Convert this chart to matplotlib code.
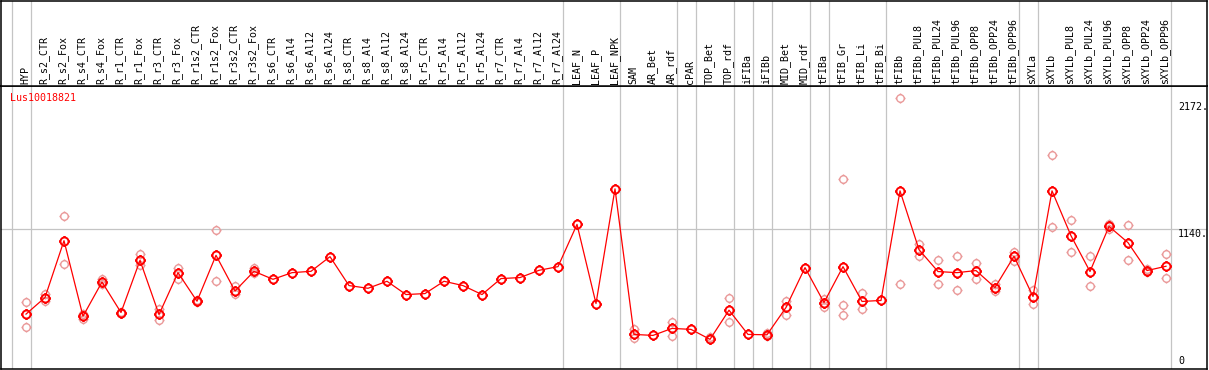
import numpy as np
import matplotlib.pyplot as plt
from matplotlib.path import Path

samples = ['HYP', 'R_s2_CTR', 'R_s2_Fox', 'R_s4_CTR', 'R_s4_Fox', 'R_r1_CTR', 'R_r1_Fox',
           'R_r3_CTR', 'R_r3_Fox', 'R_r1s2_CTR', 'R_r1s2_Fox', 'R_r3s2_CTR', 'R_r3s2_Fox',
           'R_s6_CTR', 'R_s6_Al4', 'R_s6_Al12', 'R_s6_Al24', 'R_s8_CTR', 'R_s8_Al4', 'R_s8_Al12',
           'R_s8_Al24', 'R_r5_CTR', 'R_r5_Al4', 'R_r5_Al12', 'R_r5_Al24', 'R_r7_CTR', 'R_r7_Al4',
           'R_r7_Al12', 'R_r7_Al24', 'LEAF_N', 'LEAF_P', 'LEAF_NPK', 'SAM', 'AR_Bet', 'AR_rdf',
           'cPAR', 'TOP_Bet', 'TOP_rdf', 'iFIBa', 'iFIBb', 'MID_Bet', 'MID_rdf', 'tFIBa',
           'tFIB_Gr', 'tFIB_Li', 'tFIB_Bi', 'tFIBb', 'tFIBb_PUL8', 'tFIBb_PUL24', 'tFIBb_PUL96',
           'tFIBb_OPP8', 'tFIBb_OPP24', 'tFIBb_OPP96', 'sXYLa', 'sXYLb', 'sXYLb_PUL8',
           'sXYLb_PUL24', 'sXYLb_PUL96', 'sXYLb_OPP8', 'sXYLb_OPP24', 'sXYLb_OPP96']

# mean expression per sample
means = [446, 581, 1043, 429, 707, 459, 883, 443, 783, 551, 924, 634, 794,
         729, 783, 794, 913, 678, 656, 713, 605, 613, 713, 678, 605, 735, 743, 802, 832,
         1175, 532, 1464, 281, 273, 330, 322, 241, 478, 281, 278, 500, 824, 540,
         832, 549, 557, 1448, 970, 792, 783, 800, 662, 916, 589, 1448, 1083,
         792, 1159, 1027, 800, 835]

nan = np.nan
# replicates (nan = none shown)
rep1 = [543, 613, 1240, 443, 732, 464, 932, 489, 824, 557, 1132, 678, 818,
        nan, nan, nan, nan, nan, nan, nan, nan, nan, nan, nan, nan, nan, nan, nan, nan,
        nan, nan, nan, 324, nan, 386, nan, 259, 573, nan, 289, 553, nan, 570,
        1545, 621, nan, 2200, 1018, 889, 921, 865, 691, 950, 646, 1740, 1207,
        916, 1181, 1167, 810, 932]
rep2 = [340, 553, 856, 408, 689, 454, 843, 395, 732, 545, 719, 613, 778,
        nan, nan, nan, nan, nan, nan, nan, nan, nan, nan, nan, nan, nan, nan, nan, nan,
        nan, nan, nan, 254, nan, 270, nan, 241, 383, nan, 267, 440, nan, 505,
        435, 489, nan, 694, 921, 694, 646, 735, 634, 881, 532, 1153, 954,
        678, 1137, 889, 788, 743]
rep3 = [nan] * 43 + [524] + [nan] * 17

# last sample index of each group (grey separators)
group_ends = [-1, 0, 28, 31, 34, 35, 37, 38, 39, 41, 42, 45, 52, 53, 60]
ref_value = 1140
y_max_label = 2172

W, H = 1209, 370
fig = plt.figure(figsize=(W / 100, H / 100), dpi=100)
grey = '#c4c4c4'
mono = 'DejaVu Sans Mono'

# x in pixels: 26 + 19 * i
x0 = (1 - 26) / 19
x1 = (1207 - 26) / 19

ax = fig.add_axes([1 / W, 1 / H, 1206 / W, 283 / H])
hd = fig.add_axes([1 / W, (H - 86) / H, 1206 / W, 85.5 / H])

for a in (ax, hd):
    a.set_xlim(x0, x1)
    a.set_xticks([])
    a.set_yticks([])
    for s in a.spines.values():
        s.set_linewidth(1.1)
        s.set_color('black')
    for g in group_ends:
        a.axvline(g + 0.24, color=grey, lw=0.9, zorder=0)

ax.set_ylim(0, 2300)
hd.set_ylim(86, 0)

ax.axhline(ref_value, color=grey, lw=0.9, zorder=0)

# marker: circle with small ticks
circ = Path.unit_circle()
tk = Path([(0, 1), (0, 1.35), (0, -1), (0, -1.35), (1, 0), (1.35, 0), (-1, 0), (-1.35, 0)],
          [Path.MOVETO, Path.LINETO] * 4)
mk = Path.make_compound_path(circ, tk)

xs = np.arange(len(samples))
for r in (rep1, rep2, rep3):
    ax.plot(xs, r, ls='none', marker=mk, ms=7.3, mfc='none', mec='#ea9a9a', mew=1.0, zorder=2)
ax.plot(xs, means, color='red', lw=0.9, marker=mk, ms=7.8, mfc='none', mec='red', mew=1.4,
        zorder=3)

for i, s in enumerate(samples):
    hd.text(i - 0.05, 83.5, s, rotation=90, ha='center', va='bottom', family=mono,
            fontsize=7.2, color='black')

ax.text(-0.85, 2200, 'Lus10018821', color='red', family=mono, fontsize=7.2,
        va='center', ha='left')

tx = (1178 - 26) / 19
ax.text(tx, y_max_label, '%d.' % y_max_label, family=mono, fontsize=7.2, va='top', ha='left')
ax.text(tx, ref_value, '%d.' % ref_value, family=mono, fontsize=7.2, va='top', ha='left')
ax.text(tx, 25, '0', family=mono, fontsize=7.2, va='bottom', ha='left')

fig.savefig('out.png', dpi=100)
